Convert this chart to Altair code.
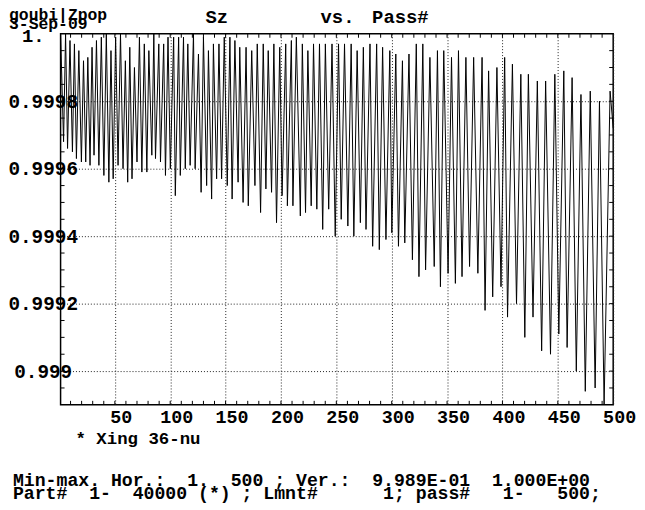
import altair as alt
import pandas as pd

# ---- data (turning points of Sz vs pass#) ----
trough_pass = [3.7, 7.3, 11.7, 15.3, 19.8, 23.7, 27.6, 31.2, 35.6, 40.1, 44.6, 48.5, 52.9, 57.4,
               61.6, 65.5, 70.0, 74.4, 78.9, 83.4, 86.7, 91.2, 95.7, 100.1, 104.6, 109.1, 113.6,
               118.0, 122.5, 127.9, 132.9, 137.4, 141.9, 146.4, 151.5, 155.9, 161.3, 165.8, 170.5,
               176.5, 181.6, 186.4, 191.5, 196.0, 201.0, 205.8, 210.8, 217.5, 222.2, 227.3, 232.4,
               237.7, 243.1, 249.0, 254.4, 260.4, 265.8, 271.7, 276.8, 282.8, 288.8, 294.8, 300.1,
               306.1, 311.8, 318.7, 324.6, 330.6, 338.4, 344.0, 350.9, 357.5, 363.5, 370.3, 377.8,
               384.3, 391.2, 398.7, 404.6, 412.7, 420.2, 427.6, 435.4, 443.4, 450.9, 458.4, 466.7,
               474.8, 483.7, 491.8]
trough_sz = [0.99968, 0.99966, 0.99965, 0.99963, 0.99962, 0.99962, 0.99961, 0.99964, 0.99961,
             0.99958, 0.99956, 0.99957, 0.99961, 0.99960, 0.99956, 0.99957, 0.99962, 0.99959,
             0.99959, 0.99964, 0.99963, 0.99962, 0.99958, 0.99960, 0.99952, 0.99958, 0.99960,
             0.99961, 0.99960, 0.99953, 0.99955, 0.99951, 0.99957, 0.99957, 0.99955, 0.99951,
             0.99956, 0.99950, 0.99949, 0.99955, 0.99947, 0.99954, 0.99953, 0.99944, 0.99952,
             0.99949, 0.99949, 0.99946, 0.99947, 0.99949, 0.99948, 0.99942, 0.99948, 0.99940,
             0.99945, 0.99943, 0.99940, 0.99944, 0.99942, 0.99937, 0.99936, 0.99939, 0.99941,
             0.99937, 0.99938, 0.99933, 0.99928, 0.99930, 0.99931, 0.99925, 0.99929, 0.99926,
             0.99928, 0.99931, 0.99929, 0.99918, 0.99922, 0.99925, 0.99916, 0.99920, 0.99910,
             0.99916, 0.99906, 0.99905, 0.99911, 0.99907, 0.99900, 0.99894, 0.99895, 0.99890]

peak_pass = [1.0, 5.5, 9.5, 13.5, 17.5, 21.7, 25.6, 29.4, 33.4, 37.8, 42.3, 46.5, 50.7, 55.1,
             59.5, 63.5, 67.7, 72.2, 76.6, 80.7, 85.2, 89.7, 94.1, 98.0, 103.1, 107.6, 112.0,
             115.9, 121.0, 125.5, 130.0, 134.5, 139.0, 144.0, 148.8, 153.9, 158.4, 162.8, 168.5,
             173.6, 178.6, 184.0, 188.5, 193.6, 198.9, 204.3, 209.4, 213.9, 219.3, 224.3, 229.4,
             234.8, 240.1, 246.1, 252.0, 257.4, 263.4, 268.8, 274.4, 280.4, 286.4, 291.8, 298.3,
             303.7, 309.7, 315.6, 322.2, 328.1, 334.5, 341.3, 347.0, 354.0, 360.3, 367.0, 374.0,
             381.6, 387.5, 395.0, 402.0, 409.0, 416.6, 423.4, 431.5, 439.0, 447.3, 455.4, 462.9,
             470.9, 479.3, 487.6, 497.2, 500.0]
peak_sz = [1.00000, 1.00000, 0.99998, 0.99997, 0.99995, 0.99992, 0.99993, 0.99996, 0.99998,
           0.99999, 1.00000, 0.99995, 0.99999, 1.00000, 0.99992, 0.99996, 0.99990, 0.99999,
           0.99997, 0.99995, 1.00000, 0.99997, 0.99997, 0.99999, 0.99999, 0.99999, 0.99999,
           0.99997, 1.00000, 0.99994, 0.99999, 0.99995, 0.99997, 0.99997, 0.99999, 0.99999,
           0.99998, 0.99996, 0.99996, 0.99995, 0.99997, 0.99997, 0.99995, 0.99997, 0.99996,
           0.99997, 0.99998, 0.99999, 0.99997, 0.99995, 0.99997, 0.99997, 0.99997, 0.99997,
           0.99997, 0.99997, 0.99997, 0.99995, 0.99996, 0.99997, 0.99997, 0.99996, 0.99995,
           0.99994, 0.99992, 0.99994, 0.99997, 0.99997, 0.99993, 0.99995, 0.99995, 0.99993,
           0.99995, 0.99993, 0.99993, 0.99993, 0.99989, 0.99990, 0.99993, 0.99991, 0.99988,
           0.99988, 0.99986, 0.99986, 0.99988, 0.99989, 0.99987, 0.99982, 0.99983, 0.99980,
           0.99983, 0.99972]

x_labels = [50, 100, 150, 200, 250, 300, 350, 400, 450, 500]
y_labels = [0.999, 0.9992, 0.9994, 0.9996, 0.9998]
y_top_label = "1."
x_minor = list(range(10, 500, 10))
y_minor = [round(0.9989 + 0.00005 * i, 5) for i in range(1, 22)]

title_parts = ["Sz", "vs.", "Pass#"]
header_lines = ["goubi|Zpop", "3-Sep-09"]
legend_line = "* Xing 36-nu"
info_lines = ["Min-max. Hor.:  1.  500 ; Ver.:  9.989E-01  1.000E+00",
              "Part#  1-  40000 (*) ; Lmnt#      1; pass#   1-   500;"]

W, H = 557, 374
FONT = "Liberation Mono"
NB = "\u00a0"

df = pd.DataFrame({
    "pass": trough_pass + peak_pass,
    "sz": trough_sz + peak_sz,
}).sort_values("pass")

xscale = alt.Scale(domain=[1, 500], nice=False, zero=False)
yscale = alt.Scale(domain=[0.9989, 1.0], nice=False, zero=False)

xaxis = alt.Axis(
    values=x_labels, title=None, domain=False, ticks=False,
    grid=True, gridDash=[1, 2], gridColor="#222", gridWidth=1,
    labelFont=FONT, labelFontWeight="bold", labelFontSize=18.5, labelColor="black",
    labelPadding=3, labelAlign="center", labelOffset=6,
    labelFlush=False, labelOverlap=False, format="d")
yaxis = alt.Axis(
    values=y_labels, title=None, domain=False, ticks=False,
    grid=True, gridDash=[1, 2], gridColor="#222", gridWidth=1,
    labelFont=FONT, labelFontWeight="bold", labelFontSize=19.5, labelColor="black",
    labelAlign="center", labelBaseline="middle", labelPadding=18,
    labelFlush=False, labelOverlap=False,
    labelExpr="format(datum.value, '.4~f')")

line = alt.Chart(df).mark_line(color="black", strokeWidth=1, clip=True).encode(
    x=alt.X("pass:Q", scale=xscale, axis=xaxis),
    y=alt.Y("sz:Q", scale=yscale, axis=yaxis),
)

xt = pd.DataFrame({"pass": x_minor})
yt = pd.DataFrame({"sz": y_minor})
tick_x_bottom = alt.Chart(xt).mark_rule(color="black", strokeWidth=1).encode(
    x=alt.X("pass:Q", scale=xscale, axis=xaxis), y=alt.value(H), y2=alt.value(H - 4))
tick_x_top = alt.Chart(xt).mark_rule(color="black", strokeWidth=1).encode(
    x=alt.X("pass:Q", scale=xscale, axis=xaxis), y=alt.value(0), y2=alt.value(4))
tick_y_left = alt.Chart(yt).mark_rule(color="black", strokeWidth=1).encode(
    y=alt.Y("sz:Q", scale=yscale, axis=yaxis), x=alt.value(0), x2=alt.value(4))
tick_y_right = alt.Chart(yt).mark_rule(color="black", strokeWidth=1).encode(
    y=alt.Y("sz:Q", scale=yscale, axis=yaxis), x=alt.value(W), x2=alt.value(W - 4))

one = pd.DataFrame({"k": [0]})


def label(text, x, y, size=17):
    return alt.Chart(one).mark_text(
        text=text.replace(" ", NB), align="left", baseline="alphabetic", font=FONT,
        fontWeight="bold", fontSize=size, color="black").encode(
        x=alt.value(x), y=alt.value(y))


texts = [
    label(header_lines[0], -52, -14, 16.5),
    label(header_lines[1], -52, -5, 16.5),
    label(y_top_label, -39, 8, 19),
    label(title_parts[0], 146, -11, 19),
    label(title_parts[1], 262, -11, 19),
    label(title_parts[2], 314, -11, 19),
    label(legend_line, 15, 413, 17.5),
    label(info_lines[0], -48, 456, 18.3),
    label(info_lines[1], -48, 469, 18.3),
]

chart = alt.layer(line, tick_x_bottom, tick_x_top, tick_y_left, tick_y_right, *texts).properties(
    width=W, height=H,
    padding={"left": 53, "top": 24, "right": 24, "bottom": 100},
    autosize=alt.AutoSizeParams(type="none"),
    background="white",
).configure_view(stroke="black", strokeWidth=1.5)

chart.save("out.html", embed_options={"renderer": "svg", "actions": False})
